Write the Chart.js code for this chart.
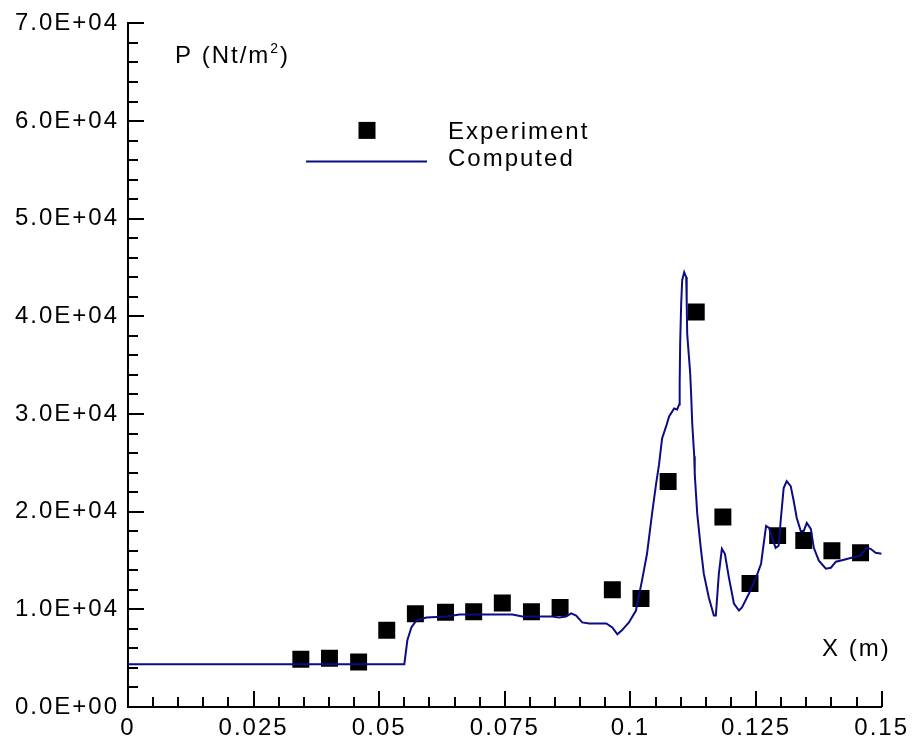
<!DOCTYPE html>
<html>
<head>
<meta charset="utf-8">
<script src="https://cdn.jsdelivr.net/npm/chart.js@4.4.0/dist/chart.umd.min.js"></script>
<style>
  html, body { margin: 0; padding: 0; background: #ffffff; }
  #wrap { width: 912px; height: 742px; }
</style>
</head>
<body>
<div id="wrap"><canvas id="c" width="912" height="742"></canvas></div>
<script>
// Axis ticks and their labels
const xTickValues = [0, 0.025, 0.05, 0.075, 0.1, 0.125, 0.15];
const xTickLabels = ['0', '0.025', '0.05', '0.075', '0.1', '0.125', '0.15'];
const yTickValues = [0, 10000, 20000, 30000, 40000, 50000, 60000, 70000];
const yTickLabels = ['0.0E+00', '1.0E+04', '2.0E+04', '3.0E+04', '4.0E+04', '5.0E+04', '6.0E+04', '7.0E+04'];

// Measured wall pressure
const expX = [0.0344, 0.0401, 0.0459, 0.0515, 0.0572, 0.0632, 0.0688, 0.0745, 0.0803, 0.0860,
              0.0964, 0.1021, 0.1075, 0.1131, 0.1184, 0.1238, 0.1293, 0.1345, 0.1401, 0.1458];
const expP = [4900, 5000, 4600, 7850, 9550, 9700, 9750, 10650, 9750, 10200,
              12000, 11100, 23100, 40450, 19450, 12650, 17550, 17050, 16000, 15800];

// Computed wall pressure
const compX = [0, 0.0550, 0.0556, 0.0564, 0.0574, 0.0594, 0.0634, 0.0660, 0.0699, 0.0765,
               0.0785, 0.0813, 0.0844, 0.0858, 0.0872, 0.0882, 0.0892, 0.0904, 0.0918, 0.0932,
               0.0952, 0.0964, 0.0974, 0.0983, 0.0997, 0.1011, 0.1023, 0.1033, 0.1043, 0.1051,
               0.1057, 0.1063, 0.1071, 0.1077, 0.1087, 0.1093, 0.1097, 0.1098, 0.1099, 0.1101,
               0.1103, 0.1107, 0.1111, 0.1112, 0.1113, 0.1119, 0.1121, 0.1123, 0.1127, 0.1128,
               0.1133, 0.1140, 0.1146, 0.1156, 0.1166, 0.1170, 0.1176, 0.1182, 0.1188, 0.1196,
               0.1206, 0.1216, 0.1222, 0.1236, 0.1250, 0.1260, 0.1266, 0.1270, 0.1276, 0.1282,
               0.1289, 0.1295, 0.1299, 0.1305, 0.1311, 0.1319, 0.1325, 0.1331, 0.1339, 0.1345,
               0.1351, 0.1359, 0.1365, 0.1375, 0.1389, 0.1399, 0.1409, 0.1425, 0.1440, 0.1458,
               0.1470, 0.1478, 0.1488, 0.1500];
const compP = [4380, 4380, 6830, 8150, 8860, 9170, 9270, 9480, 9480, 9480,
               9270, 9270, 9270, 9170, 9270, 9580, 9370, 8660, 8560, 8560,
               8560, 8150, 7440, 7850, 8660, 9880, 12940, 15690, 19770, 22820,
               24860, 27510, 28730, 29750, 30570, 30470, 30980, 33110, 37190, 41270,
               43710, 44530, 44020, 41470, 38210, 34130, 31790, 29040, 25680, 23840,
               19770, 16300, 13650, 11210, 9370, 9370, 13650, 16200, 15690, 13250,
               10600, 9880, 10190, 11620, 13250, 14670, 17020, 18540, 18340, 17320,
               16300, 16510, 19050, 22420, 23130, 22620, 21090, 19360, 18030, 18030,
               18850, 18240, 16300, 14980, 14160, 14260, 14880, 15080, 15280, 15490,
               16300, 16200, 15790, 15690];

const FONT = '"Liberation Sans", Arial, sans-serif';
const LINE_COLOR = '#0c0c84';

function pairs(xs, ys) { return xs.map((x, i) => ({ x: x, y: ys[i] })); }

// Inward tick marks, axis titles and the legend block
const decorations = {
  id: 'decorations',
  beforeDraw(chart) {
    chart.ctx.letterSpacing = '2px';
  },
  afterDraw(chart) {
    const ctx = chart.ctx;
    const xs = chart.scales.x, ys = chart.scales.y;
    const area = chart.chartArea;
    ctx.save();
    ctx.strokeStyle = '#000';
    ctx.lineWidth = 2;
    ctx.beginPath();
    // y ticks: majors from the tick list, four minors between each pair
    for (let i = 0; i < yTickValues.length; i++) {
      const v = yTickValues[i];
      const py = Math.round(ys.getPixelForValue(v));
      ctx.moveTo(area.left, py); ctx.lineTo(area.left + 16, py);
      if (i < yTickValues.length - 1) {
        const step = (yTickValues[i + 1] - v) / 5;
        for (let k = 1; k < 5; k++) {
          const my = Math.round(ys.getPixelForValue(v + k * step));
          ctx.moveTo(area.left, my); ctx.lineTo(area.left + 10, my);
        }
      }
    }
    // x ticks
    for (let i = 0; i < xTickValues.length; i++) {
      const v = xTickValues[i];
      const px = Math.round(xs.getPixelForValue(v));
      ctx.moveTo(px, area.bottom); ctx.lineTo(px, area.bottom - 16);
      if (i < xTickValues.length - 1) {
        const step = (xTickValues[i + 1] - v) / 5;
        for (let k = 1; k < 5; k++) {
          const mx = Math.round(xs.getPixelForValue(v + k * step));
          ctx.moveTo(mx, area.bottom); ctx.lineTo(mx, area.bottom - 10);
        }
      }
    }
    ctx.stroke();

    // axis titles
    ctx.fillStyle = '#000';
    ctx.textBaseline = 'alphabetic';
    ctx.textAlign = 'left';
    ctx.letterSpacing = '2px';
    let tx = area.left + 47, ty = area.top + 40;
    ctx.font = '24px ' + FONT;
    ctx.fillText('P (Nt/m', tx, ty);
    tx += ctx.measureText('P (Nt/m').width;
    ctx.font = '14px ' + FONT;
    ctx.fillText('2', tx, ty - 10);
    tx += ctx.measureText('2').width;
    ctx.font = '24px ' + FONT;
    ctx.fillText(')', tx, ty);
    ctx.fillText('X (m)', area.left + 694, area.top + 633);

    // legend
    const lx = area.left, ly = area.top;
    const expDs = chart.data.datasets[1], compDs = chart.data.datasets[0];
    ctx.fillStyle = expDs.pointBackgroundColor;
    ctx.fillRect(lx + 230.5, ly + 98.5, 17, 17);
    ctx.strokeStyle = compDs.borderColor;
    ctx.lineWidth = compDs.borderWidth;
    ctx.beginPath();
    ctx.moveTo(lx + 178, ly + 138); ctx.lineTo(lx + 299, ly + 138);
    ctx.stroke();
    ctx.fillStyle = '#000';
    ctx.font = '24px ' + FONT;
    ctx.fillText(expDs.label, lx + 320, ly + 116);
    ctx.fillText(compDs.label, lx + 320, ly + 143);
    ctx.restore();
  }
};

new Chart(document.getElementById('c'), {
  type: 'scatter',
  data: {
    datasets: [
      {
        label: 'Computed',
        data: pairs(compX, compP),
        showLine: true,
        borderColor: LINE_COLOR,
        borderWidth: 2,
        pointRadius: 0,
        tension: 0,
        fill: false
      },
      {
        label: 'Experiment',
        data: pairs(expX, expP),
        showLine: false,
        pointStyle: 'rect',
        pointRadius: 12,
        pointBorderWidth: 0,
        pointBackgroundColor: '#000000',
        pointBorderColor: '#000000'
      }
    ]
  },
  options: {
    responsive: false,
    animation: false,
    devicePixelRatio: 1,
    layout: { padding: { left: 0, right: 29, top: 20, bottom: 0 } },
    plugins: {
      legend: { display: false },
      title: { display: false },
      tooltip: { enabled: false }
    },
    scales: {
      x: {
        type: 'linear',
        min: 0,
        max: 0.15,
        afterBuildTicks: s => { s.ticks = xTickValues.map(v => ({ value: v })); },
        afterFit: s => { s.height = 35; },
        grid: { display: false, drawTicks: false },
        border: { display: true, color: '#000', width: 2 },
        ticks: {
          autoSkip: false,
          maxRotation: 0,
          padding: 7,
          color: '#000',
          font: { family: FONT, size: 24 },
          callback: v => xTickLabels[xTickValues.indexOf(v)]
        }
      },
      y: {
        type: 'linear',
        min: 0,
        max: 70000,
        afterBuildTicks: s => { s.ticks = yTickValues.map(v => ({ value: v })); },
        afterFit: s => { s.width = 128; },
        grid: { display: false, drawTicks: false },
        border: { display: true, color: '#000', width: 2 },
        ticks: {
          autoSkip: false,
          padding: 9,
          color: '#000',
          font: { family: FONT, size: 24 },
          callback: v => yTickLabels[yTickValues.indexOf(v)]
        }
      }
    }
  },
  plugins: [decorations]
});
</script>
</body>
</html>
